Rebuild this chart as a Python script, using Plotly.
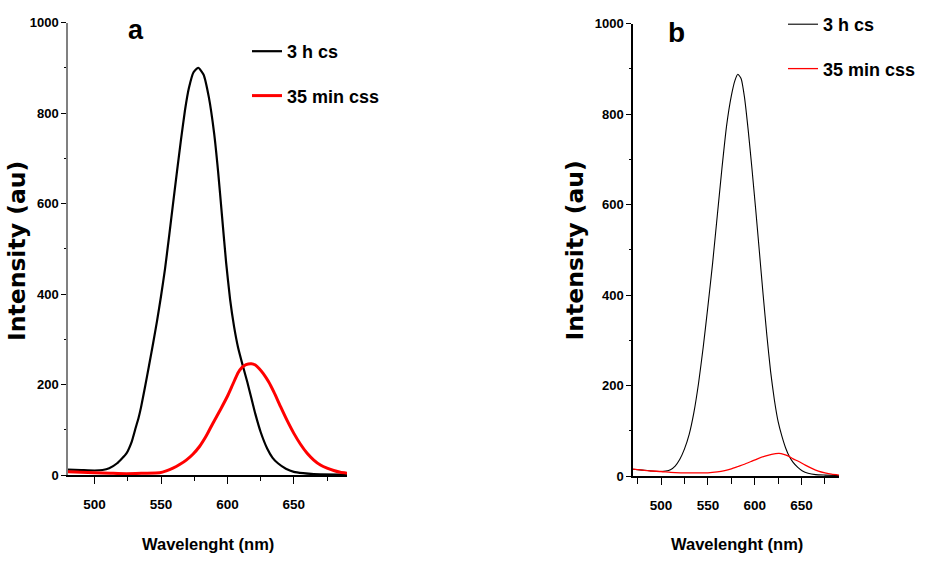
import plotly.graph_objects as go

W, H = 926, 565

# ---- data ----
a_cs_x = [480, 490, 500, 506, 511, 517, 524, 528, 531, 533, 535, 538, 541, 544, 547, 550, 553, 556, 559, 562, 565, 568, 571, 574.5, 578, 582, 586, 590, 593, 596, 599, 602, 605, 608, 612, 615, 618, 621, 625, 630, 634, 638, 644, 650, 657, 665, 690]
a_cs_y = [12, 11, 10, 11, 15, 26, 48, 74, 105, 125, 150, 195, 242, 290, 340, 395, 455, 525, 598, 670, 740, 805, 855, 890, 900, 885, 835, 755, 670, 570, 470, 388, 328, 282, 237, 205, 170, 135, 95, 58, 38, 26, 14, 7, 4, 2, 1]

a_css_x = [480, 490, 500, 512, 524, 537, 549, 554, 559, 564, 569, 574, 579, 584, 589, 595, 600, 604, 608, 611, 614, 618, 621, 624, 627, 631, 635, 640, 645, 650, 655, 660, 665, 670, 675, 680, 685, 690]
a_css_y = [7, 6, 5, 4, 3, 4, 5, 9, 15, 23, 33, 46, 63, 86, 114, 146, 174, 200, 226, 238, 244, 246, 243, 235, 224, 206, 183, 151, 120, 92, 68, 48, 33, 22, 15, 10, 6, 4]

b_cs_x = [470, 480, 490, 500, 505, 510, 515, 520, 525, 530, 535, 540, 545, 550, 555, 560, 565, 570, 575, 579, 582, 585.5, 589, 593, 597, 601, 605, 609, 613, 617, 621, 625, 629, 633, 637, 641, 646, 651, 657, 665, 675, 690]
b_cs_y = [15, 13, 11, 10, 11, 14, 22, 37, 60, 92, 140, 205, 285, 375, 470, 575, 680, 775, 840, 875, 888, 878, 838, 765, 680, 590, 495, 400, 310, 230, 168, 120, 88, 62, 43, 30, 19, 11, 6, 3, 2, 1]

b_css_x = [470, 480, 490, 500, 510, 521, 535, 550, 560, 568, 575, 582, 589, 596, 603, 611, 618, 626, 631, 636, 641, 647, 654, 661, 668, 675, 682, 690]
b_css_y = [15, 13, 11, 10, 8, 7, 7, 7, 9, 12, 16, 21, 26, 32, 38, 44, 48, 50, 48, 44, 38, 32, 24, 17, 11, 7, 4, 2]

series_names = ["3 h cs", "35 min css"]
y_ticks = [0, 200, 400, 600, 800, 1000]
x_ticks = [500, 550, 600, 650]
panel_labels = ["a", "b"]
x_title = "Wavelenght (nm)"
y_title = "Intensity (au)"


def px(x):
    return x / W


def py(y):
    return 1 - y / H


NARROW = "'Liberation Sans', Arial, sans-serif"
WIDE = "'DejaVu Sans', Verdana, sans-serif"
ARIAL = "'Liberation Sans', Arial, sans-serif"

fig = go.Figure()

fig.add_trace(go.Scatter(x=a_cs_x, y=a_cs_y, mode="lines", name=series_names[0],
                         line=dict(color="black", width=2.2, shape="spline", smoothing=0.5),
                         xaxis="x", yaxis="y", legend="legend", legendgroup="a1"))
fig.add_trace(go.Scatter(x=a_css_x, y=a_css_y, mode="lines", name=series_names[1],
                         line=dict(color="#ff0000", width=3, shape="spline", smoothing=0.5),
                         xaxis="x", yaxis="y", legend="legend", legendgroup="a2"))
fig.add_trace(go.Scatter(x=b_cs_x, y=b_cs_y, mode="lines", name=series_names[0],
                         line=dict(color="black", width=1.1, shape="spline", smoothing=0.5),
                         xaxis="x2", yaxis="y2", legend="legend2", legendgroup="b1"))
fig.add_trace(go.Scatter(x=b_css_x, y=b_css_y, mode="lines", name=series_names[1],
                         line=dict(color="#ff0000", width=1.3, shape="spline", smoothing=0.5),
                         xaxis="x2", yaxis="y2", legend="legend2", legendgroup="b2"))

tickfont_x = dict(family=NARROW, size=13.5, color="black", weight="bold")
tickfont_y = dict(family=NARROW, size=13, color="black", weight="bold")


def xaxis(domain, rng, anchor, minor_len):
    return dict(domain=domain, range=rng, anchor=anchor, showgrid=False, zeroline=False,
                showline=True, linecolor="black", linewidth=2,
                ticks="outside", tickvals=x_ticks, ticklen=7, tickwidth=1.2, tickcolor="black",
                minor=dict(dtick=25, tick0=0, ticks="outside", ticklen=minor_len, tickwidth=1.2, tickcolor="black"),
                tickfont=tickfont_x, ticklabelstandoff=9, fixedrange=True)


def yaxis(domain, anchor, linecolor):
    return dict(domain=domain, range=[0, 1000], anchor=anchor, showgrid=False, zeroline=False,
                showline=True, linecolor=linecolor, linewidth=1.5,
                ticks="outside", tickvals=y_ticks, ticklen=5, tickwidth=1.2, tickcolor="black",
                minor=dict(dtick=100, tick0=0, ticks="outside", ticklen=2, tickwidth=1.2, tickcolor="black"),
                tickfont=tickfont_y, fixedrange=True)


leg_font = dict(family=NARROW, size=18, color="black", weight="bold")

fig.update_layout(
    width=W, height=H,
    margin=dict(l=0, r=0, t=0, b=0, autoexpand=False),
    paper_bgcolor="white", plot_bgcolor="white",
    xaxis=xaxis([px(68), px(347)], [480, 690], "y", 4),
    yaxis=yaxis([py(475), py(22.5)], "x", "#808080"),
    xaxis2=xaxis([px(633), px(839)], [470, 690], "y2", 6),
    yaxis2=yaxis([py(476), py(23.5)], "x2", "black"),
    legend=dict(x=px(247), y=py(33), xanchor="left", yanchor="top", font=leg_font,
                bgcolor="rgba(0,0,0,0)", borderwidth=0, traceorder="grouped", tracegroupgap=18),
    legend2=dict(x=px(783), y=py(6), xanchor="left", yanchor="top", font=leg_font,
                 bgcolor="rgba(0,0,0,0)", borderwidth=0, traceorder="grouped", tracegroupgap=18),
    showlegend=True,
)

ann = []
ann.append(dict(x=px(136), y=py(30), text=panel_labels[0], showarrow=False, xref="paper", yref="paper",
                font=dict(family=ARIAL, size=27, color="black", weight="bold"), xanchor="center", yanchor="middle"))
ann.append(dict(x=px(676), y=py(33), text=panel_labels[1], showarrow=False, xref="paper", yref="paper",
                font=dict(family=ARIAL, size=28, color="black", weight="bold"), xanchor="center", yanchor="middle"))
for cx in (17, 574.5):
    ann.append(dict(x=px(cx), y=py(251), text=y_title, showarrow=False, xref="paper", yref="paper",
                    textangle=-90, font=dict(family=WIDE, size=23.5, color="black", weight="bold"),
                    xanchor="center", yanchor="middle"))
for cx in (208, 736.5):
    ann.append(dict(x=px(cx), y=py(544), text=x_title, showarrow=False, xref="paper", yref="paper",
                    font=dict(family=NARROW, size=16.5, color="black", weight="bold"),
                    xanchor="center", yanchor="middle"))
fig.update_layout(annotations=ann)

fig.write_html("out.html")
